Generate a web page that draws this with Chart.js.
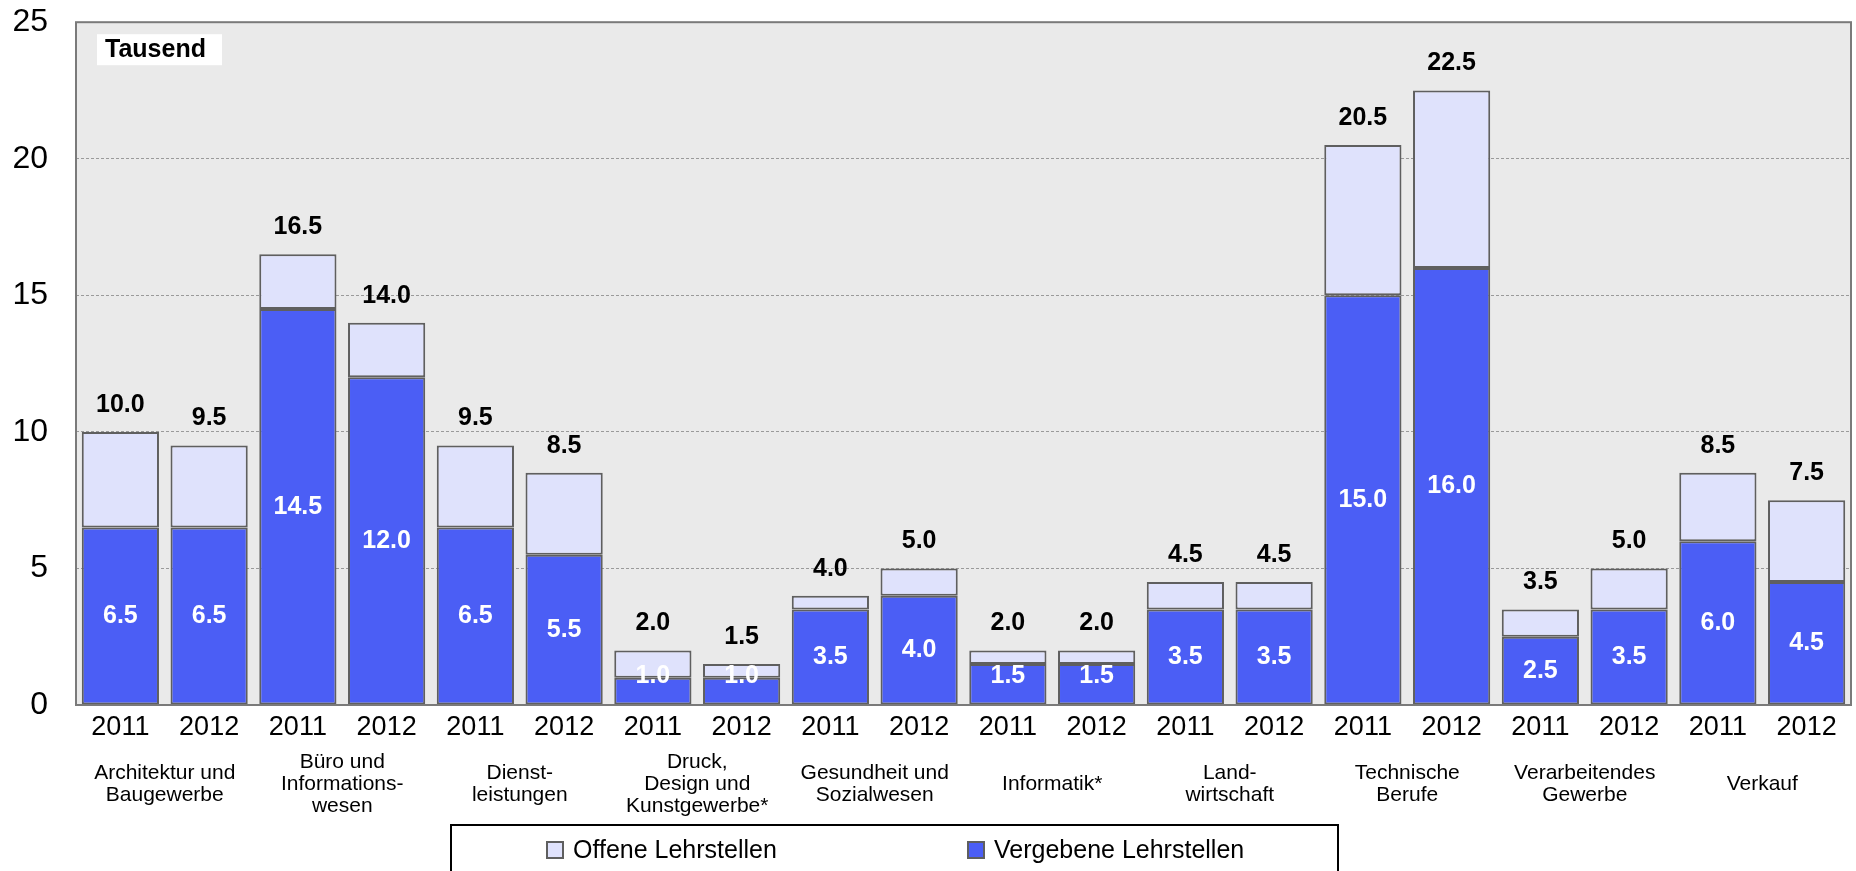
<!DOCTYPE html>
<html>
<head>
<meta charset="utf-8">
<script src="https://cdn.jsdelivr.net/npm/chart.js@4.4.1/dist/chart.umd.min.js"></script>
<style>
  html, body { margin: 0; padding: 0; background: #fff; }
  canvas { display: block; }
</style>
</head>
<body>
<canvas id="lehrstellen_chart" width="1856" height="871"></canvas>
<script>
const years = ['2011', '2012', '2011', '2012', '2011', '2012', '2011', '2012', '2011', '2012',
               '2011', '2012', '2011', '2012', '2011', '2012', '2011', '2012', '2011', '2012']
const groups = [
    ['Architektur und', 'Baugewerbe'],
    ['Büro und', 'Informations-', 'wesen'],
    ['Dienst-', 'leistungen'],
    ['Druck,', 'Design und', 'Kunstgewerbe*'],
    ['Gesundheit und', 'Sozialwesen'],
    ['Informatik*'],
    ['Land-', 'wirtschaft'],
    ['Technische', 'Berufe'],
    ['Verarbeitendes', 'Gewerbe'],
    ['Verkauf']
]
const vergebene = [6.5, 6.5, 14.5, 12.0, 6.5, 5.5, 1.0, 1.0, 3.5, 4.0, 1.5, 1.5, 3.5, 3.5, 15.0, 16.0, 2.5, 3.5, 6.0, 4.5]
const offene = [3.5, 3.0, 2.0, 2.0, 3.0, 3.0, 1.0, 0.5, 0.5, 1.0, 0.5, 0.5, 1.0, 1.0, 5.5, 6.5, 1.0, 1.5, 2.5, 3.0]
const yMax = 25
const yStep = 5

const FONT = '"Liberation Sans", Arial, sans-serif'
const BLUE = '#4b5ef5'
const LIGHT = '#dfe2fc'
const EDGE = '#5f5f5f'

Chart.defaults.font.family = FONT
Chart.defaults.color = '#000'

// white values inside the blue part, totals above each bar
const barLabels = {
    id: 'barLabels',
    afterDatasetsDraw(chart) {
        const ctx = chart.ctx
        const low = chart.getDatasetMeta(0).data
        const up = chart.getDatasetMeta(1).data
        ctx.save()
        ctx.font = 'bold 25px ' + FONT
        ctx.textAlign = 'center'
        ctx.textBaseline = 'middle'
        low.forEach((bar, i) => {
            const mid = Math.min((bar.y + bar.base) / 2, bar.base - 28)
            ctx.fillStyle = '#fff'
            ctx.fillText(vergebene[i].toFixed(1), bar.x, mid)
            ctx.fillStyle = '#000'
            ctx.fillText((vergebene[i] + offene[i]).toFixed(1), bar.x, up[i].y - 27)
        })
        ctx.restore()
    }
}

// grey plot background, frame, "Tausend" tag and the boxed legend
const frame = {
    id: 'frame',
    beforeDraw(chart) {
        const {ctx, chartArea: a} = chart
        ctx.save()
        ctx.fillStyle = '#eaeaea'
        ctx.fillRect(a.left, a.top, a.width, a.height)
        ctx.restore()
    },
    afterDraw(chart) {
        const {ctx, chartArea: a} = chart
        ctx.save()
        ctx.strokeStyle = '#7a7a7a'
        ctx.lineWidth = 2
        ctx.strokeRect(a.left, a.top, a.width, a.height)

        ctx.fillStyle = '#fff'
        ctx.fillRect(a.left + 21, a.top + 12, 125, 31)
        ctx.fillStyle = '#000'
        ctx.font = 'bold 25px ' + FONT
        ctx.textBaseline = 'middle'
        ctx.fillText('Tausend', a.left + 29, a.top + 28)

        // legend
        ctx.fillStyle = '#fff'
        ctx.fillRect(451, 825, 887, 60)
        ctx.strokeStyle = '#000'
        ctx.lineWidth = 2
        ctx.strokeRect(451, 825, 887, 60)
        const items = [
            {text: chart.data.datasets[1].label, color: LIGHT, x: 547},
            {text: chart.data.datasets[0].label, color: BLUE, x: 968}
        ]
        ctx.font = '25px ' + FONT
        items.forEach(it => {
            ctx.fillStyle = it.color
            ctx.fillRect(it.x, 842, 16, 16)
            ctx.strokeStyle = EDGE
            ctx.lineWidth = 2
            ctx.strokeRect(it.x, 842, 16, 16)
            ctx.fillStyle = '#000'
            ctx.fillText(it.text, it.x + 26, 851)
        })
        ctx.restore()
    }
}

const data = {
    labels: years,
    datasets: [{
        label: 'Vergebene Lehrstellen',
        data: vergebene,
        backgroundColor: BLUE,
        borderColor: EDGE,
        borderWidth: 2,
        borderSkipped: false,
    },
    {
        label: 'Offene Lehrstellen',
        data: offene,
        backgroundColor: LIGHT,
        borderColor: EDGE,
        borderWidth: 2,
        borderSkipped: false,
    }]
}

const config = {
    type: 'bar',
    data: data,
    plugins: [frame, barLabels],
    options: {
        responsive: false,
        animation: false,
        barPercentage: 0.87,
        categoryPercentage: 1,
        layout: {
            padding: {top: 22, right: 5, bottom: 46, left: 0}
        },
        plugins: {
            legend: {display: false},
            tooltip: {enabled: false}
        },
        scales: {
            x: {
                stacked: true,
                weight: 0,
                grid: {display: false, drawTicks: false},
                border: {display: false},
                ticks: {
                    autoSkip: false,
                    maxRotation: 0,
                    padding: 6,
                    font: {size: 27}
                },
                afterFit: (scale) => { scale.height = 40 }
            },
            x2: {
                type: 'category',
                position: 'bottom',
                labels: groups,
                offset: true,
                weight: 1,
                grid: {display: false, drawTicks: false},
                border: {display: false},
                ticks: {
                    autoSkip: false,
                    maxRotation: 0,
                    padding: 17,
                    crossAlign: 'center',
                    font: {size: 21, lineHeight: 1.05}
                },
                afterFit: (scale) => { scale.height = 80 }
            },
            y: {
                stacked: true,
                min: 0,
                max: yMax,
                grid: {
                    color: '#9a9a9a',
                    lineWidth: 1,
                    drawTicks: true,
                    tickLength: 25,
                    tickColor: 'rgba(0,0,0,0)'
                },
                border: {display: false, dash: [3, 2]},
                ticks: {
                    stepSize: yStep,
                    padding: 3,
                    font: {size: 32}
                },
                afterFit: (scale) => { scale.width = 76 }
            }
        }
    }
}

const lehrstellen_chart = new Chart(
    document.getElementById('lehrstellen_chart'),
    config
)
</script>
</body>
</html>
